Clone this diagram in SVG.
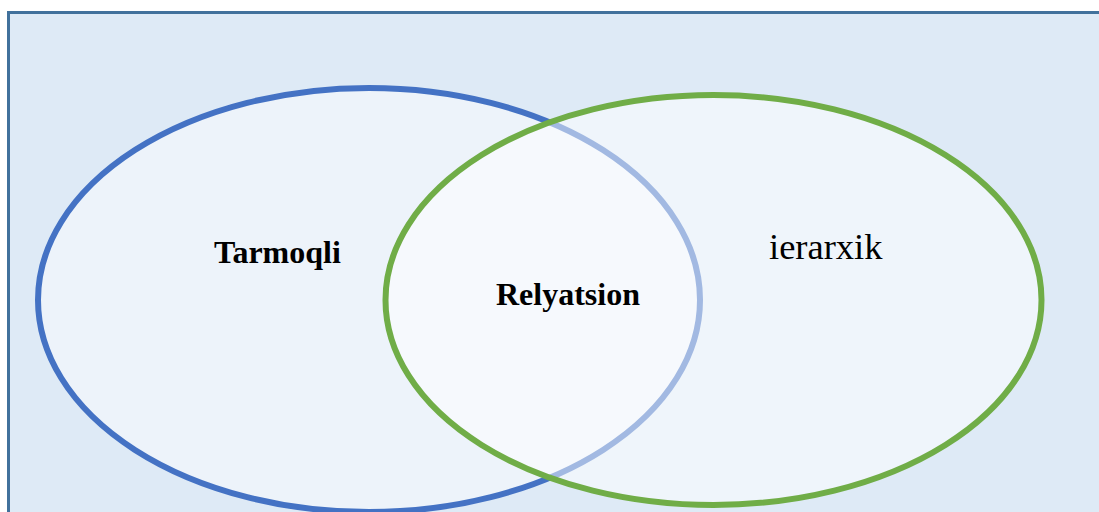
<svg xmlns="http://www.w3.org/2000/svg" width="1099" height="512" viewBox="0 0 1099 512">
<style>
.frame{fill:#DEEAF6;stroke:#41719C;stroke-width:3}
.set{fill:#FFFFFF;fill-opacity:0.45;stroke-width:6}
.lbl{font-family:"Liberation Serif","Times New Roman",serif;fill:#000}
.b{font-weight:bold;font-size:32px}
</style>
<rect class="frame" x="8.5" y="12.5" width="1100" height="510"/>
<g id="tarmoqli">
<ellipse class="set" cx="369" cy="300" rx="331" ry="212" stroke="#4472C4"/>
<text class="lbl b" x="214" y="263">Tarmoqli</text>
</g>
<g id="ierarxik">
<ellipse class="set" cx="713.5" cy="300" rx="328" ry="205" stroke="#70AD47" style="fill-opacity:0.5"/>
<text class="lbl" x="769" y="259" font-size="36.5">ierarxik</text>
</g>
<g id="relyatsion">
<text class="lbl b" x="496" y="305">Relyatsion</text>
</g>
<g id="connectors"/>
</svg>
